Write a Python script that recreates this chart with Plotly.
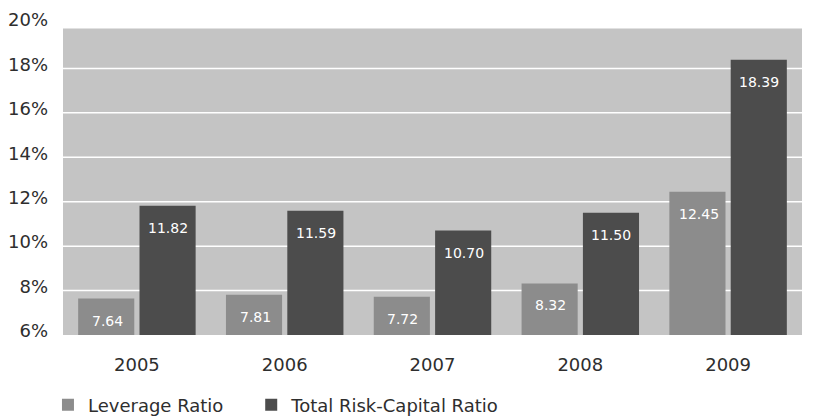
import plotly.graph_objects as go

# Capital ratios by year (%)
years = ["2005", "2006", "2007", "2008", "2009"]
leverage_ratio = [7.64, 7.81, 7.72, 8.32, 12.45]
total_risk_capital_ratio = [11.82, 11.59, 10.70, 11.50, 18.39]
tick_values = [6, 8, 10, 12, 14, 16, 18, 20]
tick_labels = ["6%", "8%", "10%", "12%", "14%", "16%", "18%", "20%"]

AXIS_MIN = 6
AXIS_MAX = 20
PANEL_TOP = 19.8

LEV_COLOR = "#8c8c8c"
TRC_COLOR = "#4c4c4c"
PANEL_COLOR = "#c4c4c4"
TEXT_COLOR = "#2e2e2e"
FONT = "DejaVu Sans, Verdana, sans-serif"

fig = go.Figure()
fig.add_trace(go.Bar(
    name="Leverage Ratio", x=years, y=[v - AXIS_MIN for v in leverage_ratio],
    base=AXIS_MIN, marker=dict(color=LEV_COLOR, line=dict(width=0)),
    hoverinfo="skip", legend="legend",
))
fig.add_trace(go.Bar(
    name="Total Risk-Capital Ratio", x=years,
    y=[v - AXIS_MIN for v in total_risk_capital_ratio],
    base=AXIS_MIN, marker=dict(color=TRC_COLOR, line=dict(width=0)),
    hoverinfo="skip", legend="legend2",
))

# Shaded panel behind the bars
fig.add_shape(type="rect", xref="paper", yref="y", x0=0, x1=1,
              y0=AXIS_MIN, y1=PANEL_TOP, fillcolor=PANEL_COLOR,
              line=dict(width=0), layer="below")
# White horizontal gridlines
for t in tick_values[1:-1]:
    fig.add_shape(type="line", xref="paper", yref="y", x0=0, x1=1,
                  y0=t, y1=t, line=dict(color="white", width=1.5),
                  layer="below")

# Value labels placed just under the top of each bar
offsets = {0: -0.2, 1: 0.21}
for idx, series in enumerate([leverage_ratio, total_risk_capital_ratio]):
    for i, v in enumerate(series):
        fig.add_annotation(
            x=i + offsets[idx], y=v, xref="x", yref="y",
            text=f"{v:.2f}", showarrow=False, yanchor="middle",
            yshift=-22, font=dict(color="white", size=14, family=FONT),
        )

legend_common = dict(orientation="h", xref="container", yref="container",
                     xanchor="left", y=1 - 405 / 419, yanchor="middle",
                     font=dict(size=18, color=TEXT_COLOR), itemwidth=30)

fig.update_layout(
    width=813, height=419,
    margin=dict(l=63, r=11, t=24, b=84, autoexpand=False),
    paper_bgcolor="white", plot_bgcolor="white",
    barmode="group", bargap=0.17, bargroupgap=0.085,
    font=dict(family=FONT, size=18, color=TEXT_COLOR),
    showlegend=True,
    legend=dict(x=0.059, **legend_common),
    legend2=dict(x=0.309, **legend_common),
    xaxis=dict(showgrid=False, zeroline=False, showline=False,
               ticks="", tickfont=dict(size=18), ticklabelstandoff=17),
    yaxis=dict(range=[AXIS_MIN, AXIS_MAX], tickvals=tick_values,
               ticktext=tick_labels, showgrid=False, zeroline=False,
               showline=False, ticks="", tickfont=dict(size=18),
               ticklabelstandoff=14, ticklabelshift=-4),
)

fig.write_html("out.html")
